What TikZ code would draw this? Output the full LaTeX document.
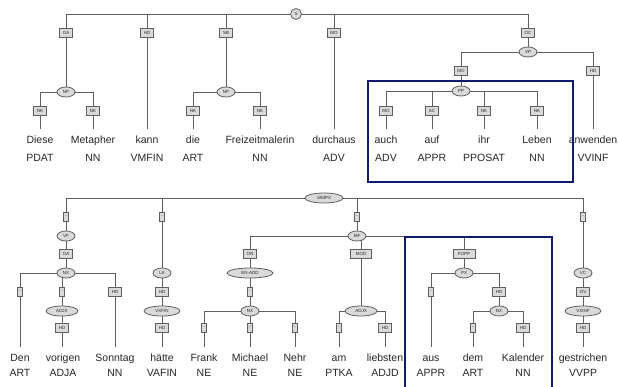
\documentclass[tikz,border=0pt]{standalone}
\usepackage{fontspec}
\setmainfont{Liberation Sans}
\usetikzlibrary{shapes.geometric}
\definecolor{linegray}{RGB}{95,95,95}
\definecolor{boxgray}{RGB}{218,218,218}
\definecolor{txtgray}{RGB}{40,40,40}
\definecolor{frameblue}{RGB}{16,26,110}
\pgfdeclarelayer{bg}
\pgfdeclarelayer{paper}
\pgfsetlayers{paper,bg,main}
\begin{document}
\begin{tikzpicture}[x=1pt,y=-1pt,
  edge/.style={draw=linegray, line width=0.9pt},
  cat/.style={ellipse, draw=linegray, fill=boxgray, line width=0.8pt, minimum width=18pt, minimum height=10pt, inner sep=0pt, text=txtgray, font=\fontsize{4.5}{5}\selectfont},
  lab/.style={rectangle, draw=linegray, fill=boxgray, line width=0.8pt, minimum width=13pt, minimum height=9pt, inner xsep=1.2pt, inner ysep=0pt, text=txtgray, font=\fontsize{4.5}{5}\selectfont},
  blank/.style={lab, minimum width=5pt, inner xsep=0.4pt},
  word/.style={font=\fontsize{10.5}{12}\selectfont, text=txtgray, inner xsep=0pt, inner ysep=6pt, text height=8pt, text depth=2pt, anchor=base},
  tag/.style={font=\fontsize{10.5}{12}\selectfont, text=txtgray, inner sep=0pt, anchor=base},
  frame/.style={draw=frameblue, line width=2.2pt}
]
\clip (0,0) rectangle (618,386);
\begin{pgfonlayer}{paper}
\fill[white] (0,0) rectangle (618,386);
\end{pgfonlayer}

% ---------------- top tree ----------------
\node[cat, circle, minimum size=11pt] (S) at (296,14) {S};
\node[lab] (oa) at (66,33) {OA};
\node[lab] (hd1) at (147,33) {HD};
\node[lab] (sb) at (226,33) {SB};
\node[lab] (mo1) at (334,33) {MO};
\node[lab] (oc) at (528,33) {OC};
\node[cat] (np1) at (66,92) {NP};
\node[lab] (nk1) at (40,111) {NK};
\node[lab] (nk2) at (93,111) {NK};
\node[cat] (np2) at (226,92) {NP};
\node[lab] (nk3) at (193,111) {NK};
\node[lab] (nk4) at (260,111) {NK};
\node[cat] (vp) at (528,52) {VP};
\node[lab] (mo2) at (461,71) {MO};
\node[lab] (hd2) at (593,71) {HD};
\node[cat] (pp) at (461,91) {PP};
\node[lab] (mo3) at (386,111) {MO};
\node[lab] (ac) at (432,111) {AC};
\node[lab] (nk5) at (484,111) {NK};
\node[lab] (nk6) at (537,111) {NK};

\node[word] (w1) at (40,143.5) {Diese};
\node[word] (w2) at (93,143.5) {Metapher};
\node[word] (w3) at (147,143.5) {kann};
\node[word] (w4) at (193,143.5) {die};
\node[word] (w5) at (260,143.5) {Freizeitmalerin};
\node[word] (w6) at (334,143.5) {durchaus};
\node[word] (w7) at (386,143.5) {auch};
\node[word] (w8) at (432,143.5) {auf};
\node[word] (w9) at (484,143.5) {ihr};
\node[word] (w10) at (537,143.5) {Leben};
\node[word] (w11) at (593,143.5) {anwenden};

\node[tag] (t1) at (40,161.5) {PDAT};
\node[tag] (t2) at (93,161.5) {NN};
\node[tag] (t3) at (147,161.5) {VMFIN};
\node[tag] (t4) at (193,161.5) {ART};
\node[tag] (t5) at (260,161.5) {NN};
\node[tag] (t6) at (334,161.5) {ADV};
\node[tag] (t7) at (386,161.5) {ADV};
\node[tag] (t8) at (432,161.5) {APPR};
\node[tag] (t9) at (484,161.5) {PPOSAT};
\node[tag] (t10) at (537,161.5) {NN};
\node[tag] (t11) at (593,161.5) {VVINF};

% ---------------- bottom tree ----------------
\node[cat, minimum width=38pt] (simpx) at (324,198) {SIMPX};
\node[blank] (b1) at (66,217) {-};
\node[blank] (b2) at (162,217) {-};
\node[blank] (b4) at (357,217) {-};
\node[blank] (b3) at (583,217) {-};
\node[cat] (vf) at (66,236) {VF};
\node[lab] (oa2) at (66,254) {OA};
\node[cat] (nx1) at (66,273) {NX};
\node[blank] (b5) at (20,292) {-};
\node[blank] (b6) at (62,292) {-};
\node[lab] (hd3) at (115,292) {HD};
\node[cat, minimum width=32pt] (adjx1) at (62,311) {ADJX};
\node[lab] (hd4) at (62,328) {HD};
\node[cat] (lk) at (162,273) {LK};
\node[lab] (hd5) at (162,292) {HD};
\node[cat, minimum width=36pt] (vxfin) at (162,311) {VXFIN};
\node[lab] (hd6) at (162,328) {HD};
\node[cat] (mf) at (357,236) {MF};
\node[lab] (on) at (250,254) {ON};
\node[lab, minimum width=21pt] (mod) at (361,254) {MOD};
\node[lab, minimum width=22pt] (fopp) at (464,254) {FOPP};
\node[cat, minimum width=46pt] (enadd) at (250,273) {EN-ADD};
\node[blank] (b7) at (250,292) {-};
\node[cat] (nx2) at (250,311) {NX};
\node[blank] (b8) at (204,328) {-};
\node[blank] (b9) at (250,328) {-};
\node[blank] (b10) at (295,328) {-};
\node[cat, minimum width=32pt] (adjx2) at (361,311) {ADJX};
\node[blank] (b11) at (339,328) {-};
\node[lab] (hd7) at (385,328) {HD};
\node[cat] (px) at (464,273) {PX};
\node[blank] (b12) at (431,292) {-};
\node[lab] (hd8) at (499,292) {HD};
\node[cat] (nx3) at (499,311) {NX};
\node[blank] (b13) at (473,328) {-};
\node[lab] (hd9) at (523,328) {HD};
\node[cat] (vc) at (583,273) {VC};
\node[lab] (ov) at (583,292) {OV};
\node[cat, minimum width=36pt] (vxinf) at (583,311) {VXINF};
\node[lab] (hd10) at (583,328) {HD};

\node[word] (u1) at (20,361) {Den};
\node[word] (u2) at (63,361) {vorigen};
\node[word] (u3) at (115,361) {Sonntag};
\node[word] (u4) at (162,361) {hätte};
\node[word] (u5) at (204,361) {Frank};
\node[word] (u6) at (250,361) {Michael};
\node[word] (u7) at (295,361) {Nehr};
\node[word] (u8) at (339,361) {am};
\node[word] (u9) at (385,361) {liebsten};
\node[word] (u10) at (431,361) {aus};
\node[word] (u11) at (473,361) {dem};
\node[word] (u12) at (523,361) {Kalender};
\node[word] (u13) at (583,361) {gestrichen};

\node[tag] (s1) at (20,376) {ART};
\node[tag] (s2) at (63,376) {ADJA};
\node[tag] (s3) at (115,376) {NN};
\node[tag] (s4) at (162,376) {VAFIN};
\node[tag] (s5) at (204,376) {NE};
\node[tag] (s6) at (250,376) {NE};
\node[tag] (s7) at (295,376) {NE};
\node[tag] (s8) at (339,376) {PTKA};
\node[tag] (s9) at (385,376) {ADJD};
\node[tag] (s10) at (431,376) {APPR};
\node[tag] (s11) at (473,376) {ART};
\node[tag] (s12) at (523,376) {NN};
\node[tag] (s13) at (583,376) {VVPP};

% ---------------- edges ----------------
\begin{pgfonlayer}{bg}
\draw[edge] (S) -| (oa);
\draw[edge] (S) -| (hd1);
\draw[edge] (S) -| (sb);
\draw[edge] (S) -| (mo1);
\draw[edge] (S) -| (oc);
\draw[edge] (oa) -- (np1);
\draw[edge] (np1) -| (nk1);
\draw[edge] (np1) -| (nk2);
\draw[edge] (nk1) -- (w1.north);
\draw[edge] (nk2) -- (w2.north);
\draw[edge] (hd1) -- (w3.north);
\draw[edge] (sb) -- (np2);
\draw[edge] (np2) -| (nk3);
\draw[edge] (np2) -| (nk4);
\draw[edge] (nk3) -- (w4.north);
\draw[edge] (nk4) -- (w5.north);
\draw[edge] (mo1) -- (w6.north);
\draw[edge] (oc) -- (vp);
\draw[edge] (vp) -| (mo2);
\draw[edge] (vp) -| (hd2);
\draw[edge] (mo2) -- (pp);
\draw[edge] (hd2) -- (w11.north);
\draw[edge] (pp) -| (mo3);
\draw[edge] (pp) -| (ac);
\draw[edge] (pp) -| (nk5);
\draw[edge] (pp) -| (nk6);
\draw[edge] (mo3) -- (w7.north);
\draw[edge] (ac) -- (w8.north);
\draw[edge] (nk5) -- (w9.north);
\draw[edge] (nk6) -- (w10.north);

\draw[edge] (simpx) -| (b1);
\draw[edge] (simpx) -| (b2);
\draw[edge] (simpx) -| (b4);
\draw[edge] (simpx) -| (b3);
\draw[edge] (b1) -- (vf);
\draw[edge] (vf) -- (oa2);
\draw[edge] (oa2) -- (nx1);
\draw[edge] (nx1) -| (b5);
\draw[edge] (nx1) -| (b6);
\draw[edge] (nx1) -| (hd3);
\draw[edge] (b5) -- (u1.north);
\draw[edge] (b6) -- (adjx1);
\draw[edge] (adjx1) -- (hd4);
\draw[edge] (hd4) -- (hd4 |- u2.north);
\draw[edge] (hd3) -- (u3.north);
\draw[edge] (b2) -- (lk);
\draw[edge] (lk) -- (hd5);
\draw[edge] (hd5) -- (vxfin);
\draw[edge] (vxfin) -- (hd6);
\draw[edge] (hd6) -- (u4.north);
\draw[edge] (b4) -- (mf);
\draw[edge] (mf) -| (on);
\draw[edge] (mf) -| (mod);
\draw[edge] (mf) -| (fopp);
\draw[edge] (on) -- (enadd);
\draw[edge] (enadd) -- (b7);
\draw[edge] (b7) -- (nx2);
\draw[edge] (nx2) -| (b8);
\draw[edge] (nx2) -- (b9);
\draw[edge] (nx2) -| (b10);
\draw[edge] (b8) -- (u5.north);
\draw[edge] (b9) -- (u6.north);
\draw[edge] (b10) -- (u7.north);
\draw[edge] (mod) -- (adjx2);
\draw[edge] (adjx2) -| (b11);
\draw[edge] (adjx2) -| (hd7);
\draw[edge] (b11) -- (u8.north);
\draw[edge] (hd7) -- (u9.north);
\draw[edge] (fopp) -- (px);
\draw[edge] (px) -| (b12);
\draw[edge] (px) -| (hd8);
\draw[edge] (b12) -- (u10.north);
\draw[edge] (hd8) -- (nx3);
\draw[edge] (nx3) -| (b13);
\draw[edge] (nx3) -| (hd9);
\draw[edge] (b13) -- (u11.north);
\draw[edge] (hd9) -- (u12.north);
\draw[edge] (b3) -- (vc);
\draw[edge] (vc) -- (ov);
\draw[edge] (ov) -- (vxinf);
\draw[edge] (vxinf) -- (hd10);
\draw[edge] (hd10) -- (u13.north);
\end{pgfonlayer}

% ---------------- highlight frames ----------------
\draw[frame] (368,81) rectangle (573,182);
\draw[frame] (405,237) rectangle (552,392);
\end{tikzpicture}
\end{document}
